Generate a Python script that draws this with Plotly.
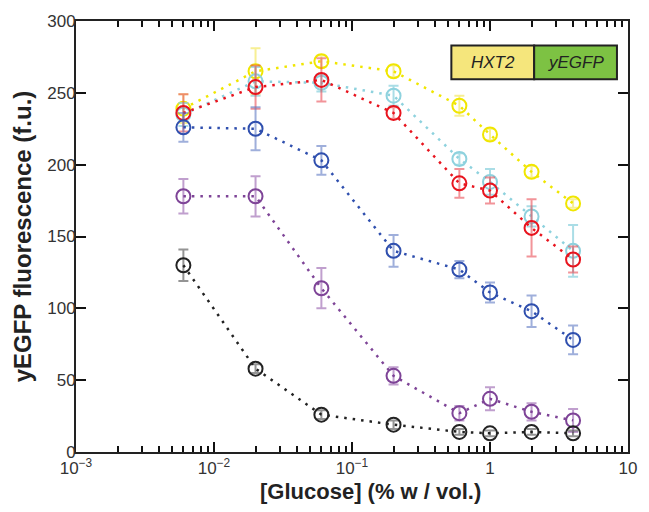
import plotly.graph_objects as go

glucose = [0.006, 0.02, 0.06, 0.2, 0.6, 1, 2, 4]

series_names = ["yellow", "cyan", "red", "blue", "purple", "black"]
yellow = [239, 265, 272, 265, 241, 221, 195, 173]
yellow_err = [10, 16, 4, 4, 7, 4, 4, 3]
cyan = [235, 258, 257, 248, 204, 188, 164, 140]
cyan_err = [8, 10, 6, 7, 4, 9, 7, 18]
red = [236, 254, 259, 236, 187, 182, 156, 134]
red_err = [13, 15, 15, 4, 10, 9, 20, 9]
blue = [226, 225, 203, 140, 127, 111, 98, 78]
blue_err = [10, 15, 10, 11, 6, 7, 11, 10]
purple = [178, 178, 114, 53, 27, 37, 28, 22]
purple_err = [12, 14, 14, 6, 5, 8, 6, 8]
black = [130, 58, 26, 19, 14, 13, 14, 13]
black_err = [11, 3, 3, 3, 2, 2, 2, 2]

major_ticks = [0.001, 0.01, 0.1, 1, 10]
major_labels = ["10<sup>−3</sup>", "10<sup>−2</sup>", "10<sup>−1</sup>", "1", "10"]
minor_ticks = [m * 10.0 ** e for e in range(-3, 1) for m in range(2, 10)]

line_colors = {
    "yellow": "#F0E600",
    "cyan": "#8ED2DE",
    "red": "#E8141E",
    "blue": "#2F4FAE",
    "purple": "#7E4497",
    "black": "#222222",
}
err_colors = {
    "yellow": "rgba(240,225,60,0.55)",
    "cyan": "rgba(142,210,222,0.75)",
    "red": "rgba(232,60,70,0.55)",
    "blue": "rgba(80,110,190,0.55)",
    "purple": "rgba(140,80,165,0.55)",
    "black": "rgba(60,60,60,0.55)",
}
data = {
    "yellow": (yellow, yellow_err),
    "cyan": (cyan, cyan_err),
    "red": (red, red_err),
    "blue": (blue, blue_err),
    "purple": (purple, purple_err),
    "black": (black, black_err),
}

fig = go.Figure()
for name in series_names:
    vals, errs = data[name]
    c = line_colors[name]
    fig.add_trace(go.Scatter(
        x=glucose, y=vals, mode="lines+markers", name=name,
        line=dict(color=c, width=2.5, dash="2.5px,6px"),
        marker=dict(symbol="circle-open", size=14, color=c, line=dict(width=2, color=c)),
        error_y=dict(type="data", array=errs, visible=True, color=err_colors[name],
                     thickness=2, width=5),
        showlegend=False,
    ))

# invisible traces that carry the minor-tick axes (bottom and top)
for ax in ["x2", "x3"]:
    fig.add_trace(go.Scatter(x=glucose, y=[None] * len(glucose), xaxis=ax, yaxis="y",
                             mode="markers", showlegend=False, hoverinfo="skip"))

axis_font = dict(family="Liberation Sans, Arial, sans-serif", size=17, color="#333333")
tick_color = "#111111"

fig.update_layout(
    xaxis=dict(
        type="log", range=[-3, 1], tickmode="array", tickvals=major_ticks, ticktext=major_labels,
        ticks="inside", ticklen=10, tickwidth=2, tickcolor=tick_color,
        showline=True, linecolor="#222", linewidth=2, mirror="ticks",
        showgrid=False, zeroline=False, tickfont=axis_font,
    ),
    xaxis2=dict(
        type="log", range=[-3, 1], overlaying="x", anchor="y", side="bottom",
        tickmode="array", tickvals=minor_ticks, showticklabels=False,
        ticks="inside", ticklen=6, tickwidth=2, tickcolor=tick_color,
        showline=False, showgrid=False, zeroline=False,
    ),
    xaxis3=dict(
        type="log", range=[-3, 1], overlaying="x", anchor="y", side="top",
        tickmode="array", tickvals=minor_ticks, showticklabels=False,
        ticks="inside", ticklen=6, tickwidth=2, tickcolor=tick_color,
        showline=False, showgrid=False, zeroline=False,
    ),
    yaxis=dict(
        range=[0, 300], dtick=50,
        ticks="inside", ticklen=10, tickwidth=2, tickcolor=tick_color,
        showline=True, linecolor="#222", linewidth=2, mirror="ticks",
        showgrid=False, zeroline=False, tickfont=axis_font, ticklabelstandoff=-5,
        title=dict(text="<b>yEGFP fluorescence (f.u.)</b>",
                   font=dict(family="Liberation Sans, Arial, sans-serif", size=24, color="#222"),
                   standoff=9),
    ),
)

# x axis title
fig.add_annotation(xref="paper", yref="paper", x=0.533, y=-0.092, xanchor="center", yanchor="middle",
                   text="<b>[Glucose] (% w / vol.)</b>", showarrow=False,
                   font=dict(family="Liberation Sans, Arial, sans-serif", size=22, color="#222"))

# gene construct box
fig.add_shape(type="rect", xref="paper", yref="paper", x0=0.680, x1=0.830, y0=0.865, y1=0.943,
              fillcolor="#F5E67C", line=dict(color="#222", width=2), layer="above")
fig.add_shape(type="rect", xref="paper", yref="paper", x0=0.830, x1=0.980, y0=0.865, y1=0.943,
              fillcolor="#7DC243", line=dict(color="#222", width=2), layer="above")
fig.add_annotation(xref="paper", yref="paper", x=0.755, y=0.904, xanchor="center", yanchor="middle",
                   text="<i>HXT2</i>", showarrow=False,
                   font=dict(family="Liberation Sans, Arial", size=17, color="#222"))
fig.add_annotation(xref="paper", yref="paper", x=0.905, y=0.904, xanchor="center", yanchor="middle",
                   text="<i>yEGFP</i>", showarrow=False,
                   font=dict(family="Liberation Sans, Arial", size=17, color="#222"))

fig.update_layout(
    width=649, height=512,
    margin=dict(l=76, r=20, t=16, b=60),
    paper_bgcolor="white", plot_bgcolor="white",
)
fig.write_html("out.html")
